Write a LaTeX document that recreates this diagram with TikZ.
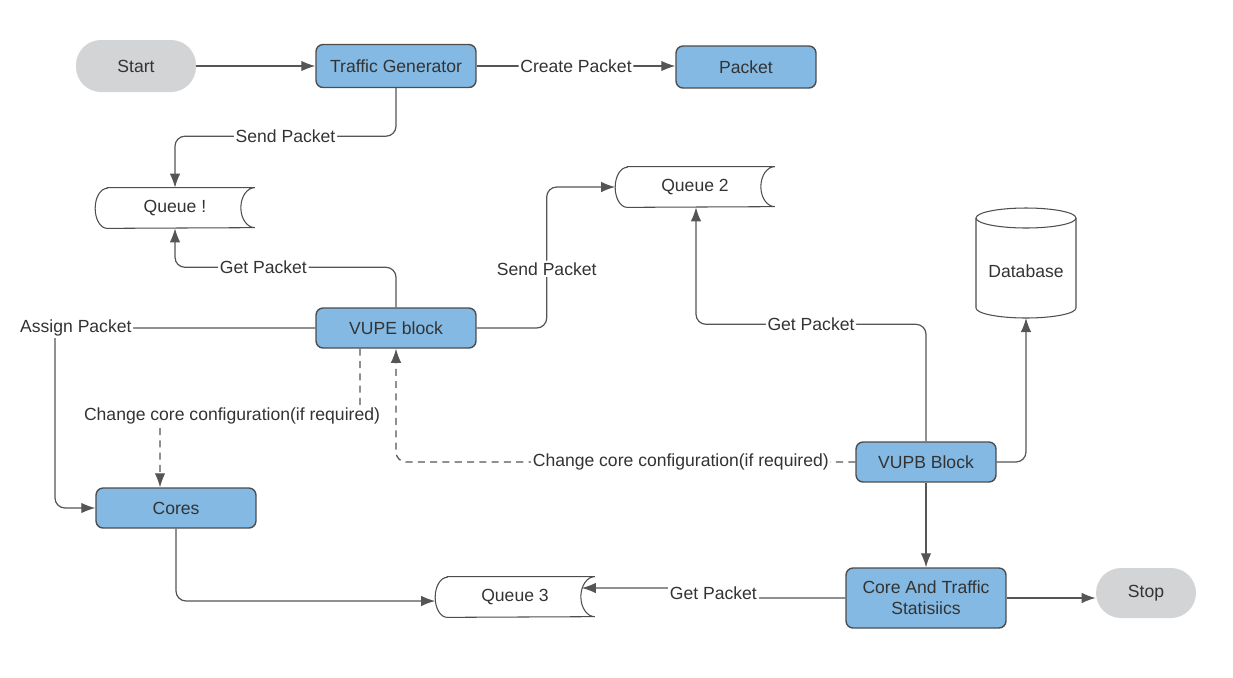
\documentclass[tikz,border=0pt]{standalone}
\usepackage{fontspec}
\setmainfont{Liberation Sans}
\usetikzlibrary{arrows.meta}

\definecolor{boxblue}{HTML}{83B9E3}
\definecolor{boxline}{HTML}{4D4D4D}
\definecolor{termgray}{HTML}{D3D4D6}
\definecolor{lncol}{HTML}{555555}
\definecolor{txt}{HTML}{333333}

\tikzstyle{bS}=[rectangle,rounded corners=4pt,fill=boxblue,draw=boxline,thick,minimum width=3.2cm,minimum height=0.8cm,inner sep=0pt,font=\fontsize{10}{12}\selectfont,text=txt,align=center]
\tikzstyle{tS}=[rectangle,rounded corners=0.5cm,fill=termgray,minimum width=2.4cm,minimum height=1.04cm,inner sep=0pt,font=\fontsize{10}{12}\selectfont,text=txt]
\tikzstyle{qS}=[minimum width=3.18cm,minimum height=0.8cm,inner sep=0pt,font=\fontsize{10}{12}\selectfont,text=txt]
\tikzstyle{lS}=[fill=white,inner sep=1pt,font=\fontsize{10}{12}\selectfont,text=txt]
\tikzstyle{eS}=[draw=lncol,line width=0.7pt,rounded corners=0.2cm,-{Latex[length=8pt,width=6pt]}]
\tikzstyle{eD}=[eS,dash pattern=on 4pt off 3pt]
\tikzstyle{oS}=[draw=boxline,line width=0.6pt]

\newcommand{\drawqueue}[1]{%
  \draw[oS] ([xshift=0.24cm]#1.north west) -- (#1.north east)
    arc[start angle=90,end angle=270,x radius=0.28cm,y radius=0.4cm]
    -- ([xshift=0.24cm]#1.south west)
    arc[start angle=270,end angle=90,x radius=0.24cm,y radius=0.4cm] -- cycle;}

\begin{document}
\begin{tikzpicture}[x=0.02cm,y=0.02cm]
                \useasboundingbox (0,0) rectangle (1233,-677);
                \draw (136,-66) node[tS] (start) {Start};
                \draw (396,-66) node[bS,minimum height=0.86cm] (tg) {Traffic Generator};
                \draw (746,-67) node[bS,minimum width=2.8cm,minimum height=0.84cm] (pk) {Packet};
                \draw (175,-208) node[qS] (q1) {Queue !};
                \draw (695,-187) node[qS] (q2) {Queue 2};
                \draw (515,-597) node[qS] (q3) {Queue 3};
                \draw (396,-328) node[bS] (vupe) {VUPE block};
                \draw (176,-508) node[bS] (cores) {Cores};
                \draw (926,-462) node[bS,minimum width=2.8cm] (vupb) {VUPB Block};
                \draw (926,-598) node[bS,minimum height=1.2cm] (stats) {Core And Traffic\\Statisiics};
                \draw (1146,-593) node[tS,minimum width=2cm,minimum height=1cm] (stop) {Stop};
                \draw (1026,-271) node[qS,minimum width=0pt,minimum height=0pt] (db) {Database};
                \coordinate (dbb) at (1026,-318);
                % queue and database outlines
                \drawqueue{q1}
                \drawqueue{q2}
                \drawqueue{q3}
                \draw[oS] (976,-218) -- (976,-308) arc[start angle=180,end angle=360,x radius=1cm,y radius=0.2cm] -- (1076,-218);
                \draw[oS] (1026,-218) ellipse[x radius=1cm,y radius=0.2cm];
                % connectors
                \draw[eS] (start) -- (tg);
                \draw[eS] (tg.east) -- node[lS]{Create Packet} (tg.east -| pk.west);
                \draw[eS] (tg.south) -- ++(0,-48) -| node[lS,pos=0.25]{Send Packet} (q1.north);
                \draw[eS] (vupe.north) -- ++(0,40) -| node[lS,pos=0.3]{Get Packet} (q1.south);
                \draw[eS] (vupe.east) -- ++(70,0) |- node[lS,pos=0.21]{Send Packet} (q2.west);
                \draw[eS] (vupe.west) -- node[lS,pos=0.92]{Assign Packet} (55,-328) |- (cores.west);
                \draw[eD] ([xshift=-0.72cm]vupe.south) -- ++(0,-67) -| node[lS,pos=0.32]{Change core configuration(if required)} ([xshift=-0.32cm]cores.north);
                \draw[eD] (vupb.west) -| node[lS,pos=0.19]{Change core configuration(if required)} (vupe.south);
                \draw[eS] (vupb.north) -- ++(0,117) -| node[lS,pos=0.25]{Get Packet} ([xshift=0.02cm]q2.south);
                \draw[eS] (vupb.east) -| (dbb);
                \draw[eS] (vupb.south) -- (stats.north);
                \draw[eS,rounded corners=0pt] (stats.west) -- ++(-132,0) -- node[lS,inner ysep=3pt]{Get Packet} ++(0,10) -- ([xshift=-0.26cm,yshift=0.18cm]q3.east);
                \draw[eS] (cores.south) |- ([yshift=-0.08cm]q3.west);
                \draw[eS] (stats.east) -- (stats.east -| stop.west);
        \end{tikzpicture}
\end{document}
